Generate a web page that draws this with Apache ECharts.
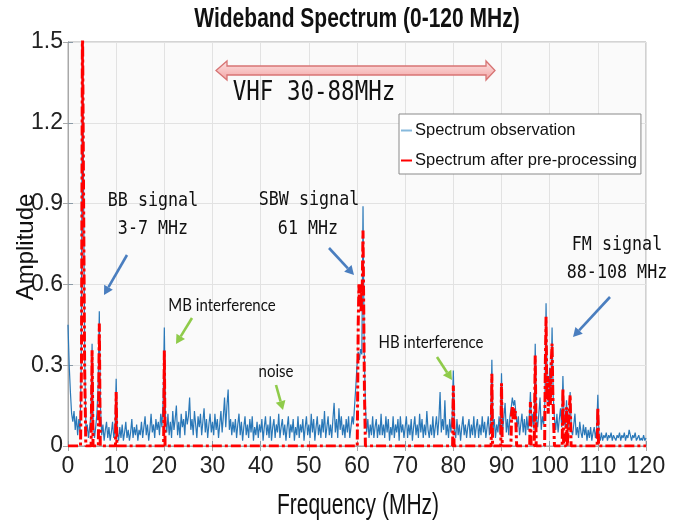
<!DOCTYPE html>
<html><head><meta charset="utf-8">
<script src="https://cdn.jsdelivr.net/npm/echarts@6/dist/echarts.min.js"></script>
<style>html,body{margin:0;padding:0;background:#fff}#c{width:697px;height:524px}</style>
</head><body><div id="c"></div>
<script>
// ---------- data ----------
const titleText = 'Wideband Spectrum (0-120 MHz)';
const xAxisTitle = 'Frequency (MHz)';
const yAxisTitle = 'Amplitude';
const seriesNames = ['Spectrum observation', 'Spectrum after pre-processing'];
const xTicks = [0, 10, 20, 30, 40, 50, 60, 70, 80, 90, 100, 110, 120];
const xTickLabels = ['0', '10', '20', '30', '40', '50', '60', '70', '80', '90', '100', '110', '120'];
const yTicks = [0, 0.3, 0.6, 0.9, 1.2, 1.5];
const yTickLabels = ['0', '0.3', '0.6', '0.9', '1.2', '1.5'];

// observed spectrum, sampled every 0.25 MHz from 0 MHz
const obsStartMHz = 0;
const obsStepMHz = 0.25;
const obsAmp = [
  0.45,0.30,0.20,0.12,0.09,0.13,0.06,0.11,0.04,0.10,0.05,0.30,1.55,1.55,0.28,0.04,0.08,0.03,0.07,0.11,
  0.38,0.08,0.03,0.07,0.12,0.22,0.50,0.14,0.04,0.08,0.02,0.06,0.09,0.03,0.07,0.02,0.05,0.09,0.03,0.06,
  0.25,0.05,0.02,0.07,0.03,0.08,0.02,0.05,0.09,0.03,0.06,0.02,0.05,0.10,0.03,0.07,0.04,0.08,0.02,0.06,
  0.04,0.09,0.03,0.07,0.11,0.04,0.08,0.02,0.06,0.12,0.05,0.08,0.03,0.10,0.06,0.09,0.04,0.12,0.07,0.17,
  0.44,0.10,0.05,0.12,0.04,0.09,0.03,0.13,0.06,0.10,0.15,0.04,0.09,0.03,0.12,0.07,0.10,0.04,0.13,0.08,
  0.11,0.18,0.06,0.10,0.04,0.13,0.08,0.03,0.11,0.07,0.12,0.04,0.09,0.14,0.05,0.10,0.03,0.08,0.12,0.05,
  0.09,0.04,0.12,0.06,0.10,0.03,0.08,0.13,0.05,0.11,0.18,0.07,0.15,0.21,0.06,0.10,0.04,0.09,0.05,0.10,
  0.03,0.08,0.12,0.04,0.09,0.02,0.07,0.11,0.04,0.08,0.03,0.10,0.05,0.11,0.02,0.07,0.04,0.09,0.03,0.08,
  0.05,0.10,0.02,0.07,0.11,0.04,0.08,0.03,0.11,0.02,0.07,0.10,0.03,0.08,0.05,0.12,0.03,0.07,0.10,0.04,
  0.08,0.02,0.07,0.11,0.03,0.08,0.05,0.10,0.02,0.07,0.04,0.11,0.03,0.08,0.05,0.10,0.02,0.07,0.11,0.04,
  0.08,0.03,0.12,0.05,0.10,0.02,0.07,0.11,0.04,0.08,0.03,0.10,0.05,0.13,0.03,0.07,0.11,0.04,0.08,0.03,
  0.10,0.16,0.05,0.10,0.03,0.14,0.06,0.11,0.04,0.08,0.03,0.10,0.05,0.11,0.03,0.07,0.11,0.08,0.15,0.22,
  0.30,0.35,0.32,0.36,0.34,0.89,0.35,0.15,0.05,0.10,0.03,0.08,0.04,0.11,0.03,0.07,0.10,0.03,0.08,0.04,
  0.12,0.04,0.08,0.03,0.11,0.05,0.10,0.02,0.07,0.04,0.11,0.03,0.08,0.05,0.10,0.02,0.11,0.05,0.08,0.03,
  0.07,0.11,0.03,0.08,0.04,0.10,0.02,0.07,0.11,0.04,0.08,0.03,0.12,0.05,0.10,0.03,0.08,0.04,0.13,0.06,
  0.03,0.08,0.04,0.11,0.03,0.07,0.11,0.04,0.10,0.20,0.05,0.10,0.06,0.17,0.04,0.08,0.03,0.10,0.05,0.11,
  0.28,0.06,0.03,0.10,0.04,0.08,0.02,0.07,0.11,0.04,0.08,0.03,0.07,0.10,0.03,0.08,0.04,0.11,0.03,0.07,
  0.10,0.03,0.08,0.04,0.11,0.05,0.09,0.03,0.07,0.11,0.04,0.08,0.32,0.06,0.10,0.03,0.08,0.05,0.11,0.04,
  0.27,0.06,0.11,0.16,0.05,0.10,0.04,0.11,0.14,0.18,0.15,0.17,0.12,0.07,0.11,0.04,0.08,0.12,0.05,0.10,
  0.04,0.11,0.06,0.10,0.20,0.07,0.12,0.06,0.38,0.10,0.07,0.12,0.18,0.06,0.11,0.08,0.16,0.53,0.22,0.15,
  0.29,0.20,0.44,0.18,0.10,0.06,0.12,0.05,0.10,0.14,0.07,0.26,0.10,0.07,0.17,0.05,0.11,0.20,0.06,0.04,
  0.08,0.12,0.04,0.07,0.03,0.09,0.05,0.03,0.08,0.04,0.07,0.02,0.06,0.03,0.07,0.02,0.05,0.07,0.03,0.06,
  0.19,0.04,0.02,0.05,0.02,0.04,0.03,0.05,0.02,0.04,0.03,0.05,0.02,0.04,0.03,0.02,0.04,0.03,0.05,0.02,
  0.04,0.03,0.05,0.02,0.04,0.03,0.06,0.04,0.02,0.04,0.03,0.05,0.02,0.03,0.04,0.02,0.03,0.02,0.04,0.02,
  0.03
];

// pre-processed spectrum (sparse points)
const procFreq = [0, 2.6, 2.8, 3.0, 3.25, 3.45, 3.7, 4.8, 5.0, 5.2, 6.3, 6.5, 6.7, 9.85, 10.0, 10.15,
  19.85, 20.0, 20.15, 60.05, 60.25, 60.4, 60.55, 60.7, 60.85, 61.0, 61.1, 61.25, 61.4, 61.55, 61.75,
  79.85, 80.0, 80.15, 87.85, 88.0, 88.15, 89.85, 90.0, 90.15, 91.95, 92.1, 92.25, 92.4, 92.55, 92.7, 92.85, 93.0, 93.15,
  95.85, 96.0, 96.15, 96.8, 97.0, 97.2, 98.95, 99.1, 99.25, 99.4, 99.55, 99.7, 99.85, 100.0, 100.15, 100.3, 100.5, 100.65, 100.8, 101.0,
  102.6, 102.75, 102.9, 103.35, 103.5, 103.65, 104.05, 104.25, 104.45, 109.85, 110.0, 110.15, 120];
const procAmp = [0, 0, 0.30, 1.60, 1.60, 0.30, 0, 0, 0.355, 0, 0, 0.455, 0, 0, 0.20, 0,
  0, 0.355, 0, 0, 0.45, 0.60, 0.52, 0.60, 0.50, 0.58, 0.60, 0.80, 0.50, 0.20, 0,
  0, 0.225, 0, 0, 0.268, 0, 0, 0.233, 0, 0, 0.12, 0.144, 0.10, 0.14, 0.11, 0.13, 0.08, 0,
  0, 0.163, 0, 0, 0.336, 0, 0, 0.30, 0.48, 0.20, 0.26, 0.12, 0.22, 0.25, 0.15, 0.30, 0.38, 0.20, 0.10, 0,
  0, 0.213, 0, 0, 0.144, 0, 0, 0.19, 0, 0, 0.142, 0, 0];

// annotations
const bandLabel = 'VHF 30-88MHz';
const signalLabels = [['BB signal', '3-7 MHz'], ['SBW signal', '61 MHz'], ['FM signal', '88-108 MHz']];
const interfLabels = ['MB interference', 'noise', 'HB interference'];

// ---------- chart ----------
const SANS = '"Liberation Sans",Arial,sans-serif';
const MONO = '"DejaVu Sans Mono",monospace';
const HUMAN = 'Lato,"Open Sans",sans-serif';
const BLUE = '#2a78b8';
const RED = '#ff0000';
const ABLUE = '#4a7ebf';
const GREEN = '#8fcb4a';

const obsData = obsAmp.map((a, i) => [obsStartMHz + i * obsStepMHz, a]);
const procData = procFreq.map((f, i) => [f, procAmp[i]]);

function labelFor(ticks, labels) {
  return v => { const i = ticks.findIndex(t => Math.abs(t - v) < 1e-6); return i >= 0 ? labels[i] : ''; };
}

function arrow(x1, y1, x2, y2, color, w) {
  const dx = x2 - x1, dy = y2 - y1, L = Math.sqrt(dx * dx + dy * dy);
  const ux = dx / L, uy = dy / L, hl = 9, hw = 5;
  const bx = x2 - ux * hl, by = y2 - uy * hl;
  return [
    { type: 'line', z: 50, shape: { x1: x1, y1: y1, x2: bx, y2: by }, style: { stroke: color, lineWidth: w } },
    { type: 'polygon', z: 50, shape: { points: [[x2, y2], [bx - uy * hw, by + ux * hw], [bx + uy * hw, by - ux * hw]] }, style: { fill: color } }
  ];
}

function txt(x, y, s, font, size, opts, weight) {
  return Object.assign({ type: 'text', x: x, y: y, z: 60,
    style: { text: s, fontFamily: font, fontSize: size, fontWeight: weight || 'normal', fill: '#111', align: 'center', verticalAlign: 'middle' } }, opts || {});
}

const graphics = [
  txt(357, 19, titleText, SANS, 25, { scaleX: 0.84, scaleY: 1.1 }, 'bold'),
  txt(358, 506, xAxisTitle, SANS, 25, { scaleX: 0.84, scaleY: 1.15 }),
  txt(26, 247, yAxisTitle, SANS, 24, { rotation: Math.PI / 2 }),
  // pink double arrow
  { type: 'polygon', z: 40, shape: { points: [[216, 70.5], [227, 61], [227, 66], [486, 66], [486, 61], [495, 70.5], [486, 80], [486, 75], [227, 75], [227, 80]] },
    style: { fill: new echarts.graphic.LinearGradient(0, 0, 0, 1, [{ offset: 0, color: '#fde3e3' }, { offset: 1, color: '#f2a3a3' }]), stroke: '#d77474', lineWidth: 1.3 } },
  txt(314, 93, bandLabel, MONO, 22.5, { scaleY: 1.17 }),
  txt(153, 201, signalLabels[0][0], MONO, 16.7, { scaleY: 1.2 }),
  txt(153, 229, signalLabels[0][1], MONO, 16.7, { scaleY: 1.2 }),
  txt(309, 200, signalLabels[1][0], MONO, 16.7, { scaleY: 1.2 }),
  txt(308, 229, signalLabels[1][1], MONO, 16.7, { scaleY: 1.2 }),
  txt(617, 245, signalLabels[2][0], MONO, 16.7, { scaleY: 1.2 }),
  txt(617, 273, signalLabels[2][1], MONO, 16.7, { scaleY: 1.2 }),
  txt(222, 305, interfLabels[0], HUMAN, 15, { scaleY: 1.2 }),
  txt(276, 371, interfLabels[1], HUMAN, 15, { scaleY: 1.2 }),
  txt(431, 342, interfLabels[2], HUMAN, 15, { scaleY: 1.2 })
].concat(
  arrow(127, 255, 104, 295, ABLUE, 2.6),
  arrow(329, 248, 354, 275, ABLUE, 2.6),
  arrow(610, 297, 573, 337, ABLUE, 2.6),
  arrow(192, 318, 176, 344, GREEN, 2.6),
  arrow(276, 385, 283, 410, GREEN, 2.6),
  arrow(437, 357, 452, 380, GREEN, 2.6)
);

const chart = echarts.init(document.getElementById('c'), null, { renderer: 'canvas' });
chart.setOption({
  animation: false,
  backgroundColor: '#ffffff',
  grid: { left: 68, right: 51, top: 42, bottom: 78, show: true, backgroundColor: '#fafafa', borderColor: '#a8a8a8', borderWidth: 1 },
  legend: {
    left: 399, top: 114, orient: 'vertical', padding: [8, 4, 5, 2], itemGap: 13,
    backgroundColor: '#ffffff', borderColor: '#8a8a8a', borderWidth: 1, borderRadius: 0,
    itemWidth: 11, itemHeight: 2, icon: 'rect',
    textStyle: { fontFamily: SANS, fontSize: 16.5, color: '#111', padding: [0, 0, 0, -2] },
    data: [{ name: seriesNames[0], itemStyle: { color: '#86b9dc' } }, { name: seriesNames[1], itemStyle: { color: RED } }]
  },
  xAxis: [{
    type: 'value', min: 0, max: 120, interval: 10,
    axisLine: { show: true, onZero: false, lineStyle: { color: '#8a9aa6' } },
    axisTick: { show: true, inside: true, length: 5, lineStyle: { color: '#8a9aa6' } },
    axisLabel: { formatter: labelFor(xTicks, xTickLabels), fontFamily: SANS, fontSize: 23, color: '#222', margin: 9 },
    splitLine: { show: true, lineStyle: { color: '#e2e2e2', width: 1 } }
  }, {
    type: 'value', position: 'top', min: 0, max: 120, interval: 10,
    axisLine: { show: true, lineStyle: { color: '#a8a8a8' } },
    axisTick: { show: true, inside: true, length: 5, lineStyle: { color: '#a8a8a8' } },
    axisLabel: { show: false }, splitLine: { show: false }
  }],
  yAxis: [{
    type: 'value', min: 0, max: 1.5, interval: 0.3,
    axisLine: { show: true, onZero: false, lineStyle: { color: '#8a9aa6' } },
    axisTick: { show: true, inside: true, length: 5, lineStyle: { color: '#8a9aa6' } },
    axisLabel: { formatter: labelFor(yTicks, yTickLabels), fontFamily: SANS, fontSize: 23, color: '#222', margin: 5 },
    splitLine: { show: true, lineStyle: { color: '#e2e2e2', width: 1 } }
  }, {
    type: 'value', position: 'right', min: 0, max: 1.5, interval: 0.3,
    axisLine: { show: true, lineStyle: { color: '#a8a8a8' } },
    axisTick: { show: true, inside: true, length: 5, lineStyle: { color: '#a8a8a8' } },
    axisLabel: { show: false }, splitLine: { show: false }
  }],
  series: [{
    name: seriesNames[0], type: 'line', data: obsData, showSymbol: false, clip: true, z: 2,
    lineStyle: { color: BLUE, width: 1.2 }, itemStyle: { color: BLUE }
  }, {
    name: seriesNames[1], type: 'line', data: procData, showSymbol: false, clip: true, z: 3,
    lineStyle: { color: RED, width: 3, type: [10, 3, 3, 3] }, itemStyle: { color: RED }
  }],
  graphic: graphics
});
</script>
</body></html>
